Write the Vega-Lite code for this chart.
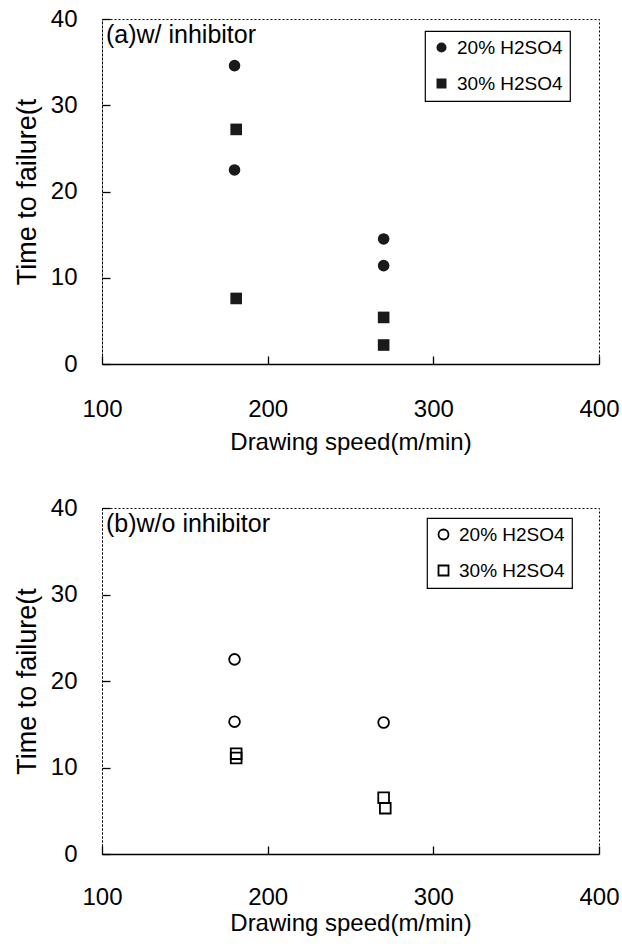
{
  "$schema": "https://vega.github.io/schema/vega-lite/v6.json",
  "background": "white",
  "padding": {"left": 12, "top": 6, "right": 5, "bottom": 5},
  "datasets": {
    "withInhibitor": [
      {"speed": 180, "time": 34.6, "acid": "20% H2SO4"},
      {"speed": 180, "time": 22.5, "acid": "20% H2SO4"},
      {"speed": 270, "time": 14.5, "acid": "20% H2SO4"},
      {"speed": 270, "time": 11.4, "acid": "20% H2SO4"},
      {"speed": 181, "time": 27.2, "acid": "30% H2SO4"},
      {"speed": 181, "time": 7.6, "acid": "30% H2SO4"},
      {"speed": 270, "time": 5.4, "acid": "30% H2SO4"},
      {"speed": 270, "time": 2.2, "acid": "30% H2SO4"}
    ],
    "withoutInhibitor": [
      {"speed": 180, "time": 22.5, "acid": "20% H2SO4"},
      {"speed": 180, "time": 15.3, "acid": "20% H2SO4"},
      {"speed": 270, "time": 15.2, "acid": "20% H2SO4"},
      {"speed": 181, "time": 11.6, "acid": "30% H2SO4"},
      {"speed": 181, "time": 11.1, "acid": "30% H2SO4"},
      {"speed": 270, "time": 6.5, "acid": "30% H2SO4"},
      {"speed": 271, "time": 5.3, "acid": "30% H2SO4"}
    ]
  },
  "vconcat": [
    {
      "title": {"text": "(a)w/ inhibitor"},
      "width": 497,
      "height": 345,
      "data": {"name": "withInhibitor"},
      "mark": {"type": "point", "filled": true, "size": 135, "color": "#1a1a1a", "opacity": 1},
      "encoding": {
        "x": {"field": "speed", "type": "quantitative", "scale": {"domain": [100, 400], "nice": false, "zero": false},
              "axis": {"values": [100, 200, 300, 400], "title": "Drawing speed(m/min)", "titlePadding": 9}},
        "y": {"field": "time", "type": "quantitative", "scale": {"domain": [0, 40], "nice": false},
              "axis": {"values": [0, 10, 20, 30, 40], "title": "Time to failure(t"}},
        "shape": {"field": "acid", "type": "nominal",
                  "scale": {"domain": ["20% H2SO4", "30% H2SO4"], "range": ["circle", "square"]},
                  "legend": {"title": null, "orient": "none", "legendX": 323, "legendY": 12}}
      }
    },
    {
      "title": {"text": "(b)w/o inhibitor"},
      "width": 497,
      "height": 346,
      "data": {"name": "withoutInhibitor"},
      "mark": {"type": "point", "filled": false, "size": 115, "color": "black", "strokeWidth": 1.8, "opacity": 1},
      "encoding": {
        "x": {"field": "speed", "type": "quantitative", "scale": {"domain": [100, 400], "nice": false, "zero": false},
              "axis": {"values": [100, 200, 300, 400], "title": "Drawing speed(m/min)", "titlePadding": 2, "labelPadding": 39}},
        "y": {"field": "time", "type": "quantitative", "scale": {"domain": [0, 40], "nice": false},
              "axis": {"values": [0, 10, 20, 30, 40], "title": "Time to failure(t"}},
        "shape": {"field": "acid", "type": "nominal",
                  "scale": {"domain": ["20% H2SO4", "30% H2SO4"], "range": ["circle", "square"]},
                  "legend": {"title": null, "orient": "none", "legendX": 325, "legendY": 10}}
      }
    }
  ],
  "spacing": 40,
  "resolve": {"scale": {"shape": "independent"}, "legend": {"shape": "independent"}},
  "config": {
    "view": {"stroke": "black", "strokeDash": [2, 2], "strokeWidth": 1},
    "title": {"anchor": "start", "frame": "group", "font": "Liberation Sans", "fontSize": 25, "fontWeight": "normal",
              "color": "black", "offset": -41, "dx": 4, "baseline": "top"},
    "axis": {"grid": false, "labelFont": "Liberation Sans", "labelFontSize": 24, "labelColor": "black",
             "labelFlush": false, "labelOverlap": false, "tickColor": "black", "tickWidth": 1.3,
             "domainColor": "black", "titleColor": "black", "titleFontWeight": "normal"},
    "axisX": {"tickSize": -8, "labelPadding": 41, "domainWidth": 1.5,
              "titleFont": "Liberation Sans", "titleFontSize": 24},
    "axisY": {"tickSize": -8, "labelPadding": 33, "domainDash": [2, 2], "domainWidth": 1,
              "titleFont": "Liberation Sans", "titleFontSize": 27, "titlePadding": 9},
    "legend": {"strokeColor": "black", "strokeWidth": 1.2, "fillColor": "white", "padding": 7, "cornerRadius": 0,
               "labelFont": "Liberation Sans", "labelFontSize": 19, "labelColor": "black", "symbolSize": 100,
               "rowPadding": 16, "labelOffset": 6, "symbolStrokeColor": "black", "symbolStrokeWidth": 1.8}
  }
}
